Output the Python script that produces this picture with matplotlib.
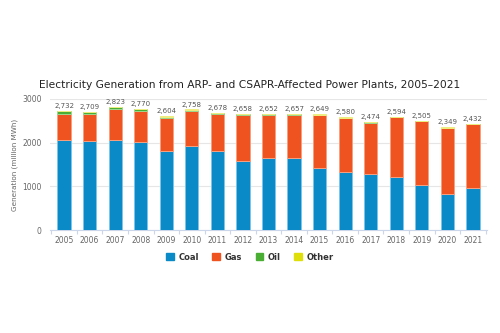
import matplotlib.pyplot as plt
import numpy as np

years = ['2005', '2006', '2007', '2008', '2009', '2010', '2011', '2012', '2013',
         '2014', '2015', '2016', '2017', '2018', '2019', '2020', '2021']
coal = [2056, 2035, 2058, 2020, 1813, 1920, 1806, 1576, 1660,
        1645, 1431, 1324, 1278, 1224, 1025, 819, 956]
gas = [598, 627, 702, 711, 742, 796, 842, 1052, 972,
       992, 1198, 1240, 1181, 1355, 1465, 1515, 1461]
oil = [62, 38, 52, 28, 36, 30, 20, 18, 12,
       12, 12, 10, 10, 10, 10, 10, 10]
other = [16, 9, 11, 11, 13, 12, 10, 12, 8,
         8, 8, 6, 5, 5, 5, 5, 5]
totals = ['2,732', '2,709', '2,823', '2,770', '2,604', '2,758', '2,678', '2,658', '2,652',
          '2,657', '2,649', '2,580', '2,474', '2,594', '2,505', '2,349', '2,432']

series = [('Coal', coal, '#0a8bc7', '#7cc4ea'),
          ('Gas', gas, '#ef531f', '#f7a07f'),
          ('Oil', oil, '#4aae34', '#9ed68e'),
          ('Other', other, '#dede0a', '#eeee80')]

fig = plt.figure(figsize=(5, 3.33), dpi=100)
ax = fig.add_axes([0.1, 0.309, 0.874, 0.394])

x = np.arange(len(years))
bottom = np.zeros(len(years))
for name, vals, col, edge in series:
    ax.bar(x, vals, width=0.52, bottom=bottom, color=col, edgecolor=edge,
           linewidth=0.7, label=name, zorder=3)
    bottom += np.array(vals)

# total labels above each stack
for xi, top, lab in zip(x, bottom, totals):
    ax.text(xi, top + 45, lab, ha='center', va='bottom', fontsize=5,
            color='#555555', clip_on=False)

ax.set_xlim(-0.55, len(years) - 0.45)
ax.set_ylim(0, 3000)
ax.set_yticks([0, 1000, 2000, 3000])
ax.yaxis.grid(True, color='#e6e6e6', linewidth=0.8, zorder=0)
ax.set_xticks(x)
ax.set_xticklabels(years)
ax.set_xticks(np.arange(-0.5, len(years), 1), minor=True)
ax.tick_params(axis='x', which='major', length=0, labelsize=5.5,
               labelcolor='#666666', pad=4)
ax.tick_params(axis='x', which='minor', length=3, color='#ccd6eb', width=0.8)
ax.tick_params(axis='y', length=0, labelsize=5.5, labelcolor='#666666', pad=6)
for s in ['top', 'right', 'left']:
    ax.spines[s].set_visible(False)
ax.spines['bottom'].set_color('#ccd6eb')
ax.spines['bottom'].set_linewidth(0.8)

ax.set_ylabel('Generation (million MWh)', fontsize=5.2, color='#666666', labelpad=3)
fig.text(0.5, 0.745, 'Electricity Generation from ARP- and CSAPR-Affected Power Plants, 2005\u20132021',
         ha='center', va='center', fontsize=7.7, color='#222222')

handles = [plt.Rectangle((0, 0), 1, 1, color=c) for _, _, c, _ in series]
leg = fig.legend(handles, [s[0] for s in series], loc='center',
                 bbox_to_anchor=(0.5, 0.228), ncol=4, frameon=False,
                 handlelength=0.9, handleheight=0.9, columnspacing=1.6,
                 handletextpad=0.6, prop={'size': 6, 'weight': 'bold'})
for t in leg.get_texts():
    t.set_color('#333333')

fig.savefig('out.png', dpi=100)
